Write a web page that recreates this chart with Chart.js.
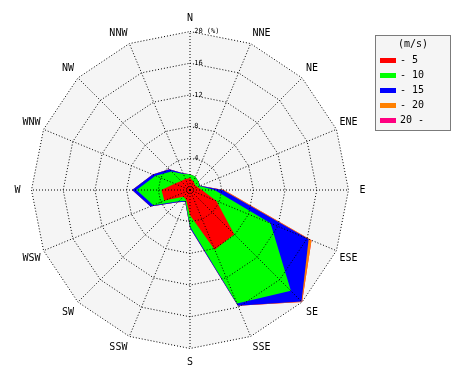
<!DOCTYPE html>
<html><head><meta charset="utf-8">
<script src="https://cdn.jsdelivr.net/npm/chart.js@4.4.0/dist/chart.umd.min.js"></script>
<style>html,body{margin:0;padding:0;background:#fff;}canvas{display:block;}</style>
</head><body>
<canvas id="c" width="470" height="380"></canvas>
<script>
// 16 compass directions (clockwise from north)
const directions = ['N','NNE','NE','ENE','E','ESE','SE','SSE','S','SSW','SW','WSW','W','WNW','NW','NNW'];
// wind-speed classes (m/s)
const speedClasses = ['- 5','- 10','- 15','- 20','20 -'];
const classColors = ['#ff0000','#00ff00','#0000ff','#ff8000','#ff0080'];
// cumulative frequency (%) per direction
const upTo5  = [1.5, 1.15, 0.9, 1.0, 1.5, 3.6, 7.9, 8.15, 3.2, 1.3, 1.2, 3.5, 3.6, 2.1, 1.6, 1.5];
const upTo10 = [2.0, 1.8, 1.5, 1.3, 3.1, 11.0, 18.0, 15.5, 4.6, 1.5, 2.0, 5.0, 6.75, 4.7, 3.3, 2.2];
const upTo15 = [2.0, 1.8, 1.5, 1.4, 4.1, 16.2, 19.9, 15.8, 4.8, 1.6, 2.2, 5.4, 7.3, 5.1, 3.7, 2.3];
const upTo20 = [2.0, 1.8, 1.5, 1.4, 4.3, 16.6, 20.0, 15.8, 4.8, 1.6, 2.2, 5.4, 7.3, 5.1, 3.7, 2.3];
const above20 = [2.0, 1.8, 1.5, 1.4, 4.3, 16.6, 20.0, 15.8, 4.8, 1.6, 2.2, 5.4, 7.3, 5.1, 3.7, 2.3];
const seriesValues = [upTo5, upTo10, upTo15, upTo20, above20];
// radial tick labels
const tickValues = [4, 8, 12, 16, 20];
const tickLabels = ['4', '8', '12', '16', '20 (%)'];

const MONO = '"DejaVu Sans Mono", "Liberation Mono", monospace';

const datasets = speedClasses.map((lab, i) => ({
  label: lab,
  data: seriesValues[i],
  backgroundColor: classColors[i],
  borderColor: 'rgba(0,0,0,0)',
  borderWidth: 0,
  pointRadius: 0,
  pointHoverRadius: 0,
  fill: true,
  tension: 0
}));

function labelPadding(ctx) {
  const n = String(ctx.label).length;
  if (ctx.index % 8 === 0) return 4;
  const a = ctx.index * Math.PI * 2 / 16;
  return 10.5 - 3.01 * n * Math.abs(Math.sin(a)) - 6 * Math.abs(Math.cos(a));
}

const commonScale = {
  type: 'radialLinear',
  axis: 'r',
  min: 0,
  max: 20,
  beginAtZero: true,
  pointLabels: {
    display: true,
    font: { family: MONO, size: 10 },
    padding: labelPadding
  },
  ticks: {
    stepSize: 4,
    showLabelBackdrop: false,
    backdropPadding: 0,
    font: { family: MONO, size: 7 }
  }
};

const legendBox = {
  id: 'legendBox',
  afterDraw(chart) {
    const ctx = chart.ctx;
    ctx.save();
    ctx.fillStyle = '#f5f5f5';
    ctx.fillRect(375, 35, 76, 96);
    ctx.strokeStyle = '#000';
    ctx.lineWidth = 1;
    ctx.setLineDash([1, 1]);
    ctx.strokeRect(375.5, 35.5, 75, 95);
    ctx.setLineDash([]);
    ctx.font = '10px ' + MONO;
    ctx.fillStyle = '#000';
    ctx.textAlign = 'center';
    ctx.textBaseline = 'middle';
    ctx.fillText('(m/s)', 413, 44);
    ctx.textAlign = 'left';
    chart.data.datasets.forEach((ds, i) => {
      const y = 60 + 15 * i;
      ctx.fillStyle = ds.backgroundColor;
      ctx.fillRect(380, y - 2, 16, 5);
      ctx.fillStyle = '#000';
      ctx.fillText(ds.label, 400, y + 0.5);
    });
    ctx.restore();
  }
};

new Chart(document.getElementById('c'), {
  type: 'radar',
  data: { labels: directions, datasets },
  options: {
    responsive: false,
    animation: false,
    devicePixelRatio: 1,
    layout: { padding: { left: 0, right: 90, top: 12, bottom: 12 } },
    plugins: { legend: { display: false }, tooltip: { enabled: false } },
    events: [],
    elements: { line: { tension: 0 } },
    scales: {
      rb: Object.assign({}, commonScale, {
        backgroundColor: '#f5f5f5',
        grid: { display: false },
        angleLines: { display: false },
        pointLabels: Object.assign({}, commonScale.pointLabels, { color: 'rgba(0,0,0,0)' }),
        ticks: Object.assign({}, commonScale.ticks, { color: 'rgba(0,0,0,0)' })
      }),
      r: Object.assign({}, commonScale, {
        grid: { display: true, color: '#000', lineWidth: 1, circular: false, z: 1 },
        border: { dash: [1, 2] },
        angleLines: { display: true, color: '#000', lineWidth: 1, borderDash: [1, 2] },
        pointLabels: Object.assign({}, commonScale.pointLabels, { color: '#000' }),
        ticks: Object.assign({}, commonScale.ticks, {
          color: '#000',
          z: 1,
          callback: (v) => {
            const i = tickValues.indexOf(v);
            if (i < 0) return '';
            const t = tickLabels[i];
            return ' '.repeat(t.length + 2) + t;
          }
        })
      })
    }
  },
  plugins: [legendBox]
});
</script>
</body></html>
